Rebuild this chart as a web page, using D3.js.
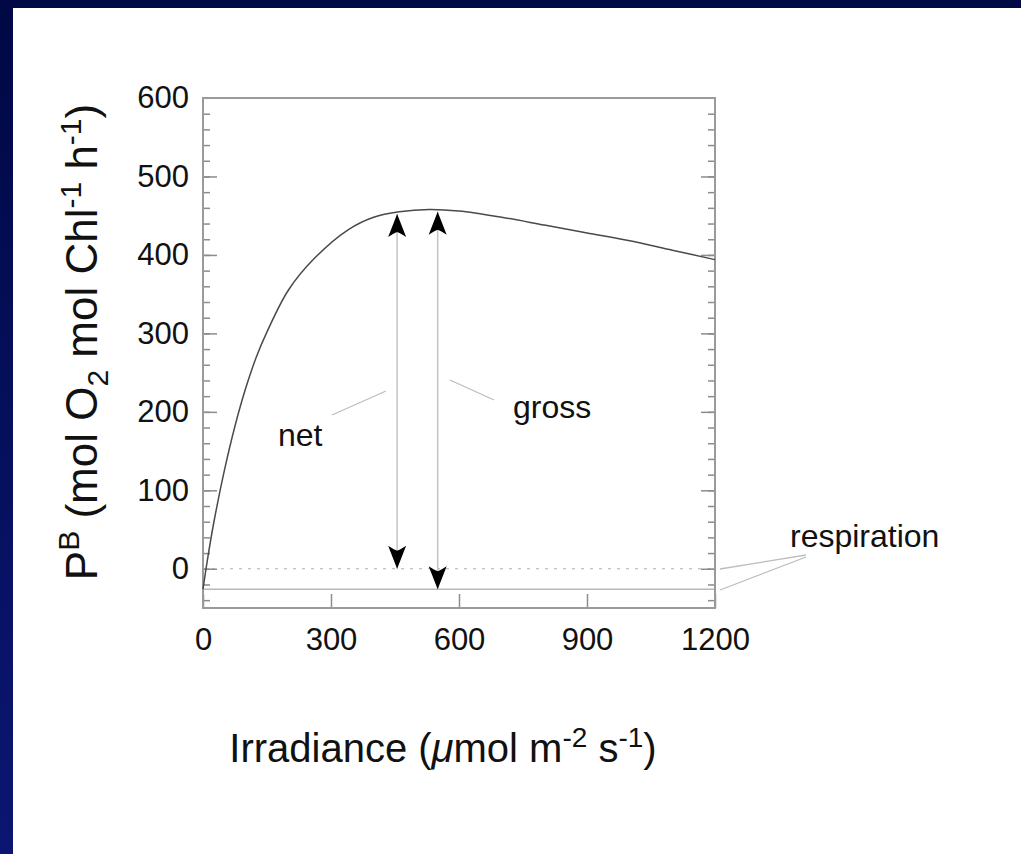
<!DOCTYPE html>
<html>
<head>
<meta charset="utf-8">
<script src="https://cdn.jsdelivr.net/npm/d3@7"></script>
<style>
  body { margin: 0; background: #fff; }
  svg { display: block; }
  text { font-family: "Liberation Sans", Arial, Helvetica, sans-serif; fill: #111; }
</style>
</head>
<body>
<div id="chart"></div>
<script>
// photosynthesis - irradiance curve (net)
var irradiance = [0, 10, 25, 50, 75, 100, 125, 150, 200, 260, 340, 400, 460, 530, 600, 700, 800, 900, 1000, 1100, 1200];
var netRate    = [-26, 10, 58, 125, 182, 230, 270, 302, 355, 395, 432, 448, 455, 458, 456, 448, 438, 428, 418, 406, 394];
var respiration = -26;

// arrows: irradiance, bottom value, top value
var arrowX    = [455, 550];
var arrowFrom = [0, -26];
var arrowTo   = [452, 455];

var xTicks = [0, 300, 600, 900, 1200];
var yTicks = [0, 100, 200, 300, 400, 500, 600];
var yMinor = d3.range(-40, 600, 20);

var W = 1021, H = 854;
var x = d3.scaleLinear().domain([0, 1200]).range([203, 715]);
var y = d3.scaleLinear().domain([-50, 600]).range([608, 98]);

var svg = d3.select("#chart").append("svg")
    .attr("width", W)
    .attr("height", H);

var defs = svg.append("defs");
var grad = defs.append("linearGradient").attr("id", "band")
    .attr("x1", 0).attr("y1", 0).attr("x2", 0).attr("y2", 1);
grad.append("stop").attr("offset", "0%").attr("stop-color", "#000845");
grad.append("stop").attr("offset", "100%").attr("stop-color", "#0c1672");

defs.append("marker")
    .attr("id", "head")
    .attr("markerUnits", "userSpaceOnUse")
    .attr("viewBox", "-24 -10 26 20")
    .attr("refX", 0).attr("refY", 0)
    .attr("markerWidth", 26).attr("markerHeight", 20)
    .attr("orient", "auto-start-reverse")
  .append("path")
    .attr("d", "M0,0 L-23,-9 Q-19,-3 -18,0 Q-19,3 -23,9 Z")
    .attr("fill", "#000");

svg.append("rect").attr("width", W).attr("height", H).attr("fill", "#fff");
svg.append("rect").attr("x", 0).attr("y", 0).attr("width", 13).attr("height", H).attr("fill", "url(#band)");
svg.append("rect").attr("x", 0).attr("y", 0).attr("width", W).attr("height", 8).attr("fill", "#000845");

var g = svg.append("g");

// zero line (dotted) and respiration line
g.append("line")
    .attr("x1", x(0)).attr("x2", x(1200))
    .attr("y1", y(0)).attr("y2", y(0))
    .attr("stroke", "#b0b0b0").attr("stroke-width", 1.2)
    .attr("stroke-dasharray", "3,6");
g.append("line")
    .attr("x1", x(0)).attr("x2", x(1200))
    .attr("y1", y(respiration)).attr("y2", y(respiration))
    .attr("stroke", "#b8b8b8").attr("stroke-width", 1.5);

// ticks: minor and major, left and right, inward
function tickAxis(axis, vals, size, tx) {
    g.append("g")
        .attr("transform", "translate(" + tx + ",0)")
        .call(axis(y).tickValues(vals).tickSize(size).tickFormat(""))
        .call(function(s) { s.select(".domain").remove(); })
        .selectAll("line").attr("stroke", "#8c8c8c").attr("stroke-width", 1.5);
}
tickAxis(d3.axisLeft, yMinor, -7, x(0));
tickAxis(d3.axisRight, yMinor, -7, x(1200));
tickAxis(d3.axisLeft, yTicks.slice(0, -1), -14, x(0));
tickAxis(d3.axisRight, yTicks.slice(0, -1), -14, x(1200));

var yAxis = g.append("g")
    .attr("transform", "translate(" + x(0) + ",0)")
    .call(d3.axisLeft(y).tickValues(yTicks).tickSize(0).tickPadding(14).tickFormat(d3.format("d")));
yAxis.select(".domain").remove();
yAxis.selectAll("text").attr("font-size", 31).attr("fill", "#111")
    .style("font-family", "'Liberation Sans', Arial, sans-serif");

var xAxis = g.append("g")
    .attr("transform", "translate(0," + y(-50) + ")")
    .call(d3.axisBottom(x).tickValues(xTicks).tickSizeInner(-14).tickSizeOuter(0).tickPadding(20).tickFormat(d3.format("d")));
xAxis.select(".domain").remove();
xAxis.selectAll("line").attr("stroke", "#8c8c8c").attr("stroke-width", 1.5);
xAxis.selectAll("text").attr("font-size", 31).attr("fill", "#111")
    .style("font-family", "'Liberation Sans', Arial, sans-serif");

// frame
g.append("rect")
    .attr("x", x(0)).attr("y", y(600))
    .attr("width", x(1200) - x(0)).attr("height", y(-50) - y(600))
    .attr("fill", "none").attr("stroke", "#9a9a9a").attr("stroke-width", 2);

// P-I curve
var line = d3.line()
    .x(function(d, i) { return x(irradiance[i]); })
    .y(function(d) { return y(d); })
    .curve(d3.curveCatmullRom.alpha(0.5));
g.append("path")
    .datum(netRate)
    .attr("d", line)
    .attr("fill", "none").attr("stroke", "#4a4a4a").attr("stroke-width", 1.5);

// net and gross arrows
arrowX.forEach(function(ax, i) {
    g.append("line")
        .attr("x1", x(ax)).attr("x2", x(ax))
        .attr("y1", y(arrowFrom[i])).attr("y2", y(arrowTo[i]))
        .attr("stroke", "#c4c4c4").attr("stroke-width", 1.5)
        .attr("marker-start", "url(#head)")
        .attr("marker-end", "url(#head)");
});

// annotation labels and leaders
function leader(x1, v1, x2, v2) {
    g.append("line")
        .attr("x1", x1).attr("y1", v1).attr("x2", x2).attr("y2", v2)
        .attr("stroke", "#bdbdbd").attr("stroke-width", 1.3);
}
leader(332, 415, 386, 391);
leader(450, 380, 494, 400);
leader(806, 555, 720, 569);
leader(806, 557, 720, 590);

g.append("text").attr("x", 278).attr("y", 446).attr("font-size", 32).text("net");
g.append("text").attr("x", 513).attr("y", 418).attr("font-size", 32).text("gross");
g.append("text").attr("x", 790).attr("y", 547).attr("font-size", 32).text("respiration");

// axis titles
var xt = svg.append("text")
    .attr("x", 443).attr("y", 762)
    .attr("text-anchor", "middle")
    .attr("font-size", 40);
xt.append("tspan").text("Irradiance (");
xt.append("tspan").attr("font-style", "italic").text("\u03bc");
xt.append("tspan").text("mol m");
xt.append("tspan").attr("font-size", 28).attr("dy", -15).text("-2");
xt.append("tspan").attr("dy", 15).text(" s");
xt.append("tspan").attr("font-size", 28).attr("dy", -15).text("-1");
xt.append("tspan").attr("dy", 15).text(")");

var yt = svg.append("text")
    .attr("transform", "translate(97,342) rotate(-90)")
    .attr("text-anchor", "middle")
    .attr("font-size", 44);
yt.append("tspan").text("P");
yt.append("tspan").attr("font-size", 30).attr("dy", -18).text("B");
yt.append("tspan").attr("dy", 18).text(" (mol O");
yt.append("tspan").attr("font-size", 30).attr("dy", 11).text("2");
yt.append("tspan").attr("dy", -11).text(" mol Chl");
yt.append("tspan").attr("font-size", 30).attr("dy", -16).text("-1");
yt.append("tspan").attr("dy", 16).text(" h");
yt.append("tspan").attr("font-size", 30).attr("dy", -16).text("-1");
yt.append("tspan").attr("dy", 16).text(")");
</script>
</body>
</html>
